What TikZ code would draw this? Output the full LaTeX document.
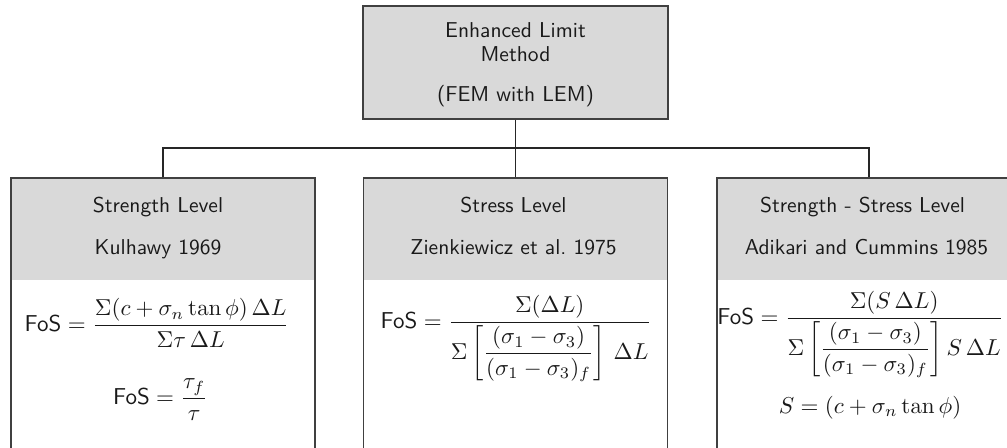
\documentclass[tikz,border=0pt]{standalone}
\usepackage{amsmath}
\usepackage{graphicx}
\newcommand{\bigeq}[1]{\scalebox{1.07}{#1}}
\begin{document}
\begin{tikzpicture}[x=0.465pt,y=-0.465pt,
  box/.style={draw=black!75,line width=0.7pt,inner sep=0pt},
  headbox/.style={box,minimum width=141.4pt,minimum height=140pt,anchor=north,
    path picture={\fill[gray!30] (path picture bounding box.north west) rectangle ([yshift=-47.4pt]path picture bounding box.north east);}},
  txt/.style={inner sep=0pt,font=\sffamily,anchor=base,text=black!90},
  eq/.style={inner sep=0pt,anchor=base,text=black!90},
  link/.style={draw=black!85,line width=0.6pt}]
\clip (0,0) rectangle (1007,447);
% top box
\node[box,fill=gray!30,minimum width=141.8pt,minimum height=52.5pt] (top) at (515.5,62.5) {};
\node[txt] (t1) at (515.5,37.3) {Enhanced Limit};
\node[txt] (t2) at (515.5,61) {Method};
\node[txt] (t3) at (515.5,101.7) {(FEM with LEM)};
% lower boxes
\node[headbox] (L) at (163,177) {};
\node[headbox] (M) at (515.5,177) {};
\node[headbox] (R) at (869,177) {};
% connectors
\draw[link] (top.south) -- (M.north);
\draw[link] (L.north) -- ++(0,-29) -| (R.north);
% left texts
\node[txt] (l1) at (158,212.7) {Strength Level};
\node[txt] (l2) at (158,254) {Kulhawy 1969};
\node[eq] (l3) at (157,331.4) {\bigeq{$\textsf{FoS} = \dfrac{\Sigma(c+\sigma_n\tan\phi)\,\Delta L}{\Sigma\tau\,\Delta L}$}};
\node[eq] (l4) at (160.5,404.4) {\bigeq{$\textsf{FoS} = \dfrac{\tau_f}{\tau}$}};
% middle texts
\node[txt] (m1) at (513.5,212.7) {Stress Level};
\node[txt] (m2) at (513.5,254) {Zienkiewicz et al.\ 1975};
\node[eq] (m3) at (516,328.4) {\bigeq{$\textsf{FoS} = \dfrac{\Sigma(\Delta L)}{\Sigma\left[\dfrac{(\sigma_1-\sigma_3)}{(\sigma_1-\sigma_3)_f}\right]\,\Delta L}$}};
% right texts
\node[txt] (r1) at (862.5,212.7) {Strength - Stress Level};
\node[txt] (r2) at (866.5,254) {Adikari and Cummins 1985};
\node[eq,anchor=base west] (r3) at (717,324.4) {\bigeq{$\textsf{FoS} = \dfrac{\Sigma(S\,\Delta L)}{\Sigma\left[\dfrac{(\sigma_1-\sigma_3)}{(\sigma_1-\sigma_3)_f}\right] S\,\Delta L}$}};
\node[eq] (r4) at (870,413) {\bigeq{$S = (c+\sigma_n\tan\phi)$}};
\end{tikzpicture}
\end{document}
